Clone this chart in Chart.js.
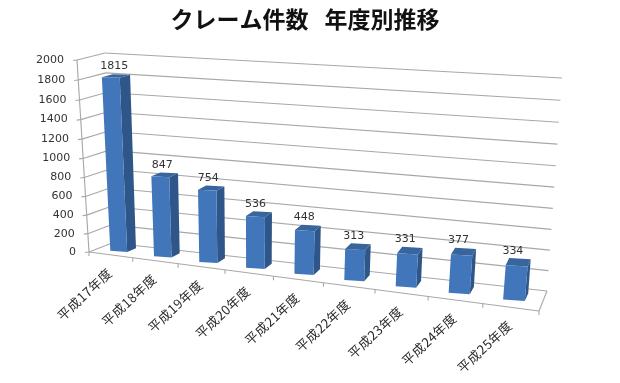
<!DOCTYPE html>
<html>
<head>
<meta charset="utf-8">
<style>
  html, body { margin: 0; padding: 0; background: #fff; }
  canvas { display: block; filter: blur(0.3px); }
</style>
<script src="https://cdn.jsdelivr.net/npm/chart.js@4"></script>
</head>
<body>
<canvas id="chart" width="620" height="383"></canvas>
<script>
const categories = ["平成17年度", "平成18年度", "平成19年度", "平成20年度", "平成21年度", "平成22年度", "平成23年度", "平成24年度", "平成25年度"];
const claims = [1815, 847, 754, 536, 448, 313, 331, 377, 334];

const fontJp = '"Noto Sans CJK JP", sans-serif';
const fontNum = '"DejaVu Sans", sans-serif';

// corners of the 3D box as Excel drew it: front and back plane
const front = { bl: [89, 252], br: [539, 311], tl: [77, 60], tr: [560, 92] };
const back = { bl: [112, 243], br: [547, 291], tl: [105, 53], tr: [562, 78] };
const barDepth = [0.36, 0.76];

const lerp = (a, b, t) => a + (b - a) * t;

function onPlane(p, u, v) {
  const x1 = lerp(p.bl[0], p.br[0], u), y1 = lerp(p.bl[1], p.br[1], u);
  const x2 = lerp(p.tl[0], p.tr[0], u), y2 = lerp(p.tl[1], p.tr[1], u);
  return [lerp(x1, x2, v), lerp(y1, y2, v)];
}

// u, v are 0..1 along the scales, d is 0 at the front and 1 at the back
function project(u, v, d) {
  const uu = 0.86 * u + 0.14 * u * u;
  const vv = 0.95 * v + 0.05 * v * v;
  const a = onPlane(front, uu, vv), b = onPlane(back, uu, vv);
  return [lerp(a[0], b[0], d), lerp(a[1], b[1], d)];
}

function line(ctx, a, b) {
  ctx.beginPath();
  ctx.moveTo(a[0], a[1]);
  ctx.lineTo(b[0], b[1]);
  ctx.stroke();
}

function quad(ctx, pts, color) {
  ctx.fillStyle = color;
  ctx.beginPath();
  pts.forEach((p, i) => i ? ctx.lineTo(p[0], p[1]) : ctx.moveTo(p[0], p[1]));
  ctx.closePath();
  ctx.fill();
}

const box3d = {
  id: "box3d",
  afterDatasetsDraw(chart) {
    const ctx = chart.ctx;
    const area = chart.chartArea;
    const xs = chart.scales.x, ys = chart.scales.y;
    const toU = px => (px - area.left) / (area.right - area.left);
    const toV = px => (area.bottom - px) / (area.bottom - area.top);

    ctx.save();

    // walls and floor
    ctx.strokeStyle = "#a8a8a8";
    ctx.lineWidth = 1.1;
    ys.ticks.forEach(t => {
      const v = toV(ys.getPixelForValue(t.value));
      const p0 = project(0, v, 0), p1 = project(0, v, 1), p2 = project(1, v, 1);
      line(ctx, [p0[0] - 4, p0[1] + 0.5], p0);
      line(ctx, p0, p1);
      line(ctx, p1, p2);
    });
    line(ctx, project(0, 0, 0), project(0, 1, 0));
    line(ctx, project(0, 0, 0), project(1, 0, 0));
    line(ctx, project(1, 0, 0), project(1, 0, 1));
    for (let i = 0; i <= categories.length; i++) {
      const p = project(i / categories.length, 0, 0);
      line(ctx, p, [p[0], p[1] + 4]);
    }

    // bars, their edges are flatter than the floor lines in the original
    const bars = chart.getDatasetMeta(0).data;
    bars.forEach((bar, i) => {
      const uc = toU(bar.x);
      const u0 = toU(bar.x - bar.width / 2), u1 = toU(bar.x + bar.width / 2);
      const v = toV(bar.y);
      const [d0, d1] = barDepth;
      const pt = (u, vv, d) => {
        const p = project(u, vv, d);
        return [p[0], project(uc, vv, d)[1] + (p[1] - project(uc, vv, d)[1]) * 0.55];
      };
      quad(ctx, [pt(u1, 0, d0), pt(u1, 0, d1), pt(u1, v, d1), pt(u1, v, d0)], "#2f5688");
      quad(ctx, [pt(u0, v, d0), pt(u1, v, d0), pt(u1, v, d1), pt(u0, v, d1)], "#39659d");
      quad(ctx, [pt(u0, 0, d0), pt(u1, 0, d0), pt(u1, v, d0), pt(u0, v, d0)], "#4177ba");

      const top = project(uc, v, d1);
      ctx.fillStyle = "#333";
      ctx.font = "11px " + fontNum;
      ctx.textAlign = "center";
      ctx.textBaseline = "alphabetic";
      ctx.fillText(String(claims[i]), top[0] - 7, top[1] - 5);
    });

    // value axis labels
    ctx.fillStyle = "#333";
    ctx.font = "11px " + fontNum;
    ctx.textAlign = "right";
    ctx.textBaseline = "middle";
    ys.ticks.forEach(t => {
      const p = project(0, toV(ys.getPixelForValue(t.value)), 0);
      ctx.fillText(String(t.value), p[0] - 13, p[1]);
    });

    // category labels, rotated
    ctx.font = "13px " + fontJp;
    ctx.letterSpacing = "0.4px";
    ctx.fillStyle = "#2a2a2a";
    xs.getLabels().forEach((label, i) => {
      const p = project(toU(xs.getPixelForValue(i)), 0, 0);
      ctx.save();
      ctx.translate(p[0] - 1, p[1] + 16);
      ctx.rotate(-43 * Math.PI / 180);
      ctx.textAlign = "right";
      ctx.textBaseline = "middle";
      ctx.fillText(label, 0, 0);
      ctx.restore();
    });

    ctx.restore();
  }
};

new Chart(document.getElementById("chart"), {
  type: "bar",
  data: {
    labels: categories,
    datasets: [{
      data: claims,
      backgroundColor: "transparent",
      categoryPercentage: 1,
      barPercentage: 0.39
    }]
  },
  options: {
    responsive: false,
    animation: false,
    layout: { padding: { left: 60, right: 70, bottom: 60 } },
    plugins: {
      legend: { display: false },
      tooltip: { enabled: false },
      title: {
        display: true,
        text: "クレーム件数\u2002\u2009年度別推移",
        color: "#111",
        font: { family: fontJp, size: 23, weight: "bold" },
        padding: { top: 5, bottom: 6 }
      }
    },
    scales: {
      x: { display: false },
      y: { display: false, min: 0, max: 2000, ticks: { stepSize: 200 } }
    }
  },
  plugins: [box3d]
});
</script>
</body>
</html>
